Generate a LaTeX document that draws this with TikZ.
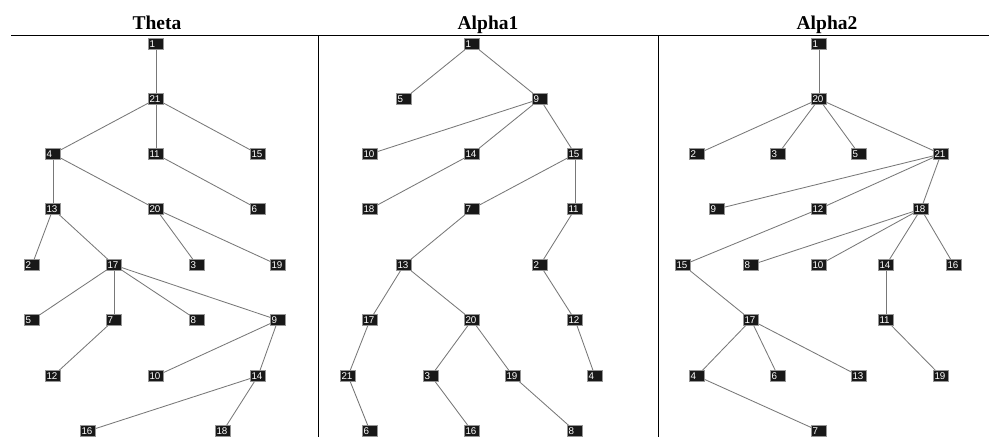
\documentclass[tikz,border=0pt]{standalone}
\usepackage{fontspec}
\newfontfamily\nodefont{Liberation Sans}
\newfontfamily\titlefont{Liberation Serif}
\definecolor{edgegray}{RGB}{120,120,120}
\definecolor{boxfill}{RGB}{24,24,24}
\definecolor{boxline}{RGB}{150,150,150}
\begin{document}
\begin{tikzpicture}[x=1pt,y=-1pt,
  nd/.style={fill=boxfill, draw=boxline, line width=0.4pt, minimum width=15pt, minimum height=11pt,
    inner sep=0pt, text=white, font=\nodefont\fontsize{9.8}{9.8}\selectfont, align=left,
    text width=13pt, text height=7.1pt, text depth=0pt},
  ed/.style={draw=edgegray, line width=0.85pt},
  ttl/.style={anchor=base, font=\titlefont\bfseries\fontsize{19.5}{19.5}\selectfont, inner sep=0pt},
  rule/.style={draw=black, line width=0.9pt}]
\useasboundingbox (0,0) rectangle (989,437);
% titles
\node[ttl] (T1) at (157,29) {Theta};
\node[ttl] (T2) at (488,29) {Alpha1};
\node[ttl] (T3) at (827,29) {Alpha2};
% frame lines
\coordinate (hl) at (11,35);
\coordinate (hr) at (989,35);
\coordinate (v1t) at (318,35);
\coordinate (v1b) at (318,437);
\coordinate (v2t) at (658,35);
\coordinate (v2b) at (658,437);
\draw[rule] (hl) -- (hr);
\draw[rule] (v1t) -- (v1b);
\draw[rule] (v2t) -- (v2b);
% ---------------- Theta ----------------
\node[nd] (t1) at (156,44) {1};
\node[nd] (t21) at (156,99) {21};
\node[nd] (t4) at (53,154) {4};
\node[nd] (t11) at (156,154) {11};
\node[nd] (t15) at (258,154) {15};
\node[nd] (t13) at (53,209) {13};
\node[nd] (t20) at (156,209) {20};
\node[nd] (t6) at (258,209) {6};
\node[nd] (t2) at (32,265) {2};
\node[nd] (t17) at (114,265) {17};
\node[nd] (t3) at (197,265) {3};
\node[nd] (t19) at (278,265) {19};
\node[nd] (t5) at (32,320) {5};
\node[nd] (t7) at (114,320) {7};
\node[nd] (t8) at (197,320) {8};
\node[nd] (t9) at (278,320) {9};
\node[nd] (t12) at (53,376) {12};
\node[nd] (t10) at (156,376) {10};
\node[nd] (t14) at (258,376) {14};
\node[nd] (t16) at (88,431) {16};
\node[nd] (t18) at (223,431) {18};
\foreach \a/\b in {1/21,21/4,21/11,21/15,4/13,4/20,11/6,13/2,13/17,20/3,20/19,17/5,17/7,17/8,17/9,7/12,9/10,9/14,14/16,14/18}
  \draw[ed] (t\a) -- (t\b);
% ---------------- Alpha1 ----------------
\node[nd] (a1) at (472,44) {1};
\node[nd] (a5) at (404,99) {5};
\node[nd] (a9) at (540,99) {9};
\node[nd] (a10) at (370,154) {10};
\node[nd] (a14) at (472,154) {14};
\node[nd] (a15) at (575,154) {15};
\node[nd] (a18) at (370,209) {18};
\node[nd] (a7) at (472,209) {7};
\node[nd] (a11) at (575,209) {11};
\node[nd] (a13) at (404,265) {13};
\node[nd] (a2) at (540,265) {2};
\node[nd] (a17) at (370,320) {17};
\node[nd] (a20) at (472,320) {20};
\node[nd] (a12) at (575,320) {12};
\node[nd] (a21) at (348,376) {21};
\node[nd] (a3) at (431,376) {3};
\node[nd] (a19) at (513,376) {19};
\node[nd] (a4) at (595,376) {4};
\node[nd] (a6) at (370,431) {6};
\node[nd] (a16) at (472,431) {16};
\node[nd] (a8) at (575,431) {8};
\foreach \a/\b in {1/5,1/9,9/10,9/14,9/15,14/18,15/7,15/11,7/13,11/2,13/17,13/20,2/12,17/21,20/3,20/19,12/4,21/6,3/16,19/8}
  \draw[ed] (a\a) -- (a\b);
% ---------------- Alpha2 ----------------
\node[nd] (b1) at (819,44) {1};
\node[nd] (b20) at (819,99) {20};
\node[nd] (b2) at (697,154) {2};
\node[nd] (b3) at (778,154) {3};
\node[nd] (b5) at (859,154) {5};
\node[nd] (b21) at (941,154) {21};
\node[nd] (b9) at (717,209) {9};
\node[nd] (b12) at (819,209) {12};
\node[nd] (b18) at (921,209) {18};
\node[nd] (b15) at (683,265) {15};
\node[nd] (b8) at (751,265) {8};
\node[nd] (b10) at (819,265) {10};
\node[nd] (b14) at (886,265) {14};
\node[nd] (b16) at (954,265) {16};
\node[nd] (b17) at (751,320) {17};
\node[nd] (b11) at (886,320) {11};
\node[nd] (b4) at (697,376) {4};
\node[nd] (b6) at (778,376) {6};
\node[nd] (b13) at (859,376) {13};
\node[nd] (b19) at (941,376) {19};
\node[nd] (b7) at (819,431) {7};
\foreach \a/\b in {1/20,20/2,20/3,20/5,20/21,21/9,21/12,21/18,12/15,18/8,18/10,18/14,18/16,15/17,14/11,17/4,17/6,17/13,11/19,4/7}
  \draw[ed] (b\a) -- (b\b);
\end{tikzpicture}
\end{document}
